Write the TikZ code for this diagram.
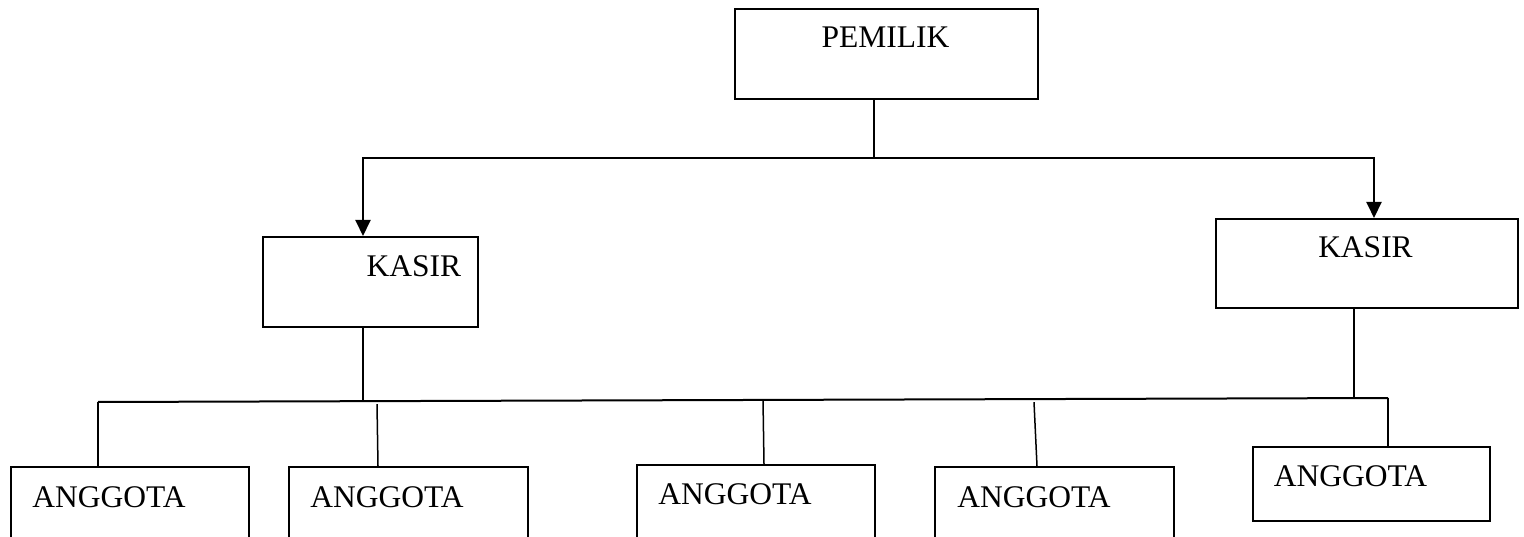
\documentclass[tikz,border=0pt]{standalone}
\usepackage{fontspec}
\setmainfont{Liberation Serif}
\usetikzlibrary{arrows.meta,calc}
\tikzset{
  box/.style={draw, line width=1.8pt, inner sep=0pt, anchor=north west},
  lbl/.style={inner sep=0pt, anchor=base, font=\fontsize{31.5}{38}\selectfont},
  conn/.style={line width=1.5pt},
  busline/.style={line width=2pt},
  arr/.style={line width=2pt, -{Triangle[length=16pt,width=15pt]}}
}
\begin{document}
\begin{tikzpicture}[x=1pt,y=-1pt]
\useasboundingbox (0,0) rectangle (1524,537);
\fill[white] (0,0) rectangle (1524,537);
\clip (0,0) rectangle (1524,537);
% boxes
\node[box, minimum width=303pt, minimum height=90pt] (pem) at (734,8) {};
\node[box, minimum width=215pt, minimum height=90pt] (kasL) at (262,236) {};
\node[box, minimum width=302pt, minimum height=89pt] (kasR) at (1215,218) {};
\node[box, minimum width=238pt, minimum height=100pt] (a1) at (10,466) {};
\node[box, minimum width=239pt, minimum height=100pt] (a2) at (288,466) {};
\node[box, minimum width=238pt, minimum height=100pt] (a3) at (636,464) {};
\node[box, minimum width=239pt, minimum height=100pt] (a4) at (934,466) {};
\node[box, minimum width=237pt, minimum height=74pt] (a5) at (1252,446) {};
% labels
\node[lbl] (tpem) at (885.5,48) {PEMILIK};
\node[lbl] (tkasL) at (414,277) {KASIR};
\node[lbl] (tkasR) at (1365.5,258) {KASIR};
\node[lbl] (ta1) at (109,507) {ANGGOTA};
\node[lbl] (ta2) at (387,507) {ANGGOTA};
\node[lbl] (ta3) at (735,504) {ANGGOTA};
\node[lbl] (ta4) at (1034,507) {ANGGOTA};
\node[lbl] (ta5) at (1350.5,486) {ANGGOTA};
% junction coordinates
\coordinate (jT) at (874,158);
\coordinate (xL) at (363,0);
\coordinate (xR) at (1374,0);
\coordinate (bL) at (98,402);
\coordinate (bR) at (1388,398);
\coordinate (b1) at (363,401.2);
\coordinate (b2) at (377,401.1);
\coordinate (b3) at (763,399.9);
\coordinate (b4) at (1034,399.1);
\coordinate (b5) at (1354,398.1);
% top level
\draw[conn] (pem.south -| jT) -- (jT);
\draw[arr] (jT) -| (kasL.north -| xL);
\draw[arr] (jT) -| (kasR.north -| xR);
% kasir to bus
\draw[conn] (kasL.south -| b1) -- (b1);
\draw[conn] (kasR.south -| b5) -- (b5);
% bus
\draw[busline] (bL) -- (bR);
% bus to members
\draw[conn] (bL) -- (a1.north -| bL);
\draw[conn] ($(b2)+(0,3)$) -- ($(a2.north west)+(90,0)$);
\draw[conn] (b3) -- ($(a3.north west)+(128,0)$);
\draw[conn] ($(b4)+(0,3)$) -- ($(a4.north west)+(103,0)$);
\draw[conn] (bR) -- (a5.north -| bR);
\end{tikzpicture}
\end{document}
